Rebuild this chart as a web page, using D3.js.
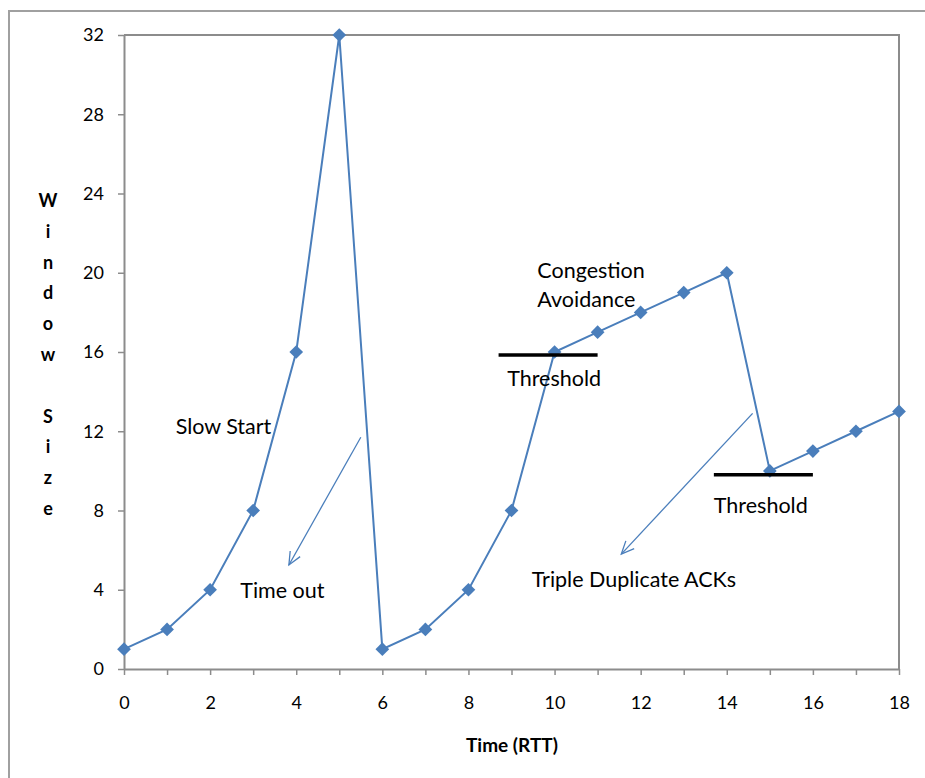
<!DOCTYPE html>
<html><head><meta charset="utf-8">
<script src="https://cdn.jsdelivr.net/npm/d3@7/dist/d3.min.js"></script>
<style>body{margin:0;background:#fff}svg{display:block}text{font-family:Lato,"Open Sans",sans-serif}</style>
</head><body>
<script>
const rtt = [0,1,2,3,4,5,6,7,8,9,10,11,12,13,14,15,16,17,18];
const windowSize = [1,2,4,8,16,32,1,2,4,8,16,17,18,19,20,10,11,12,13];
const yTicks = [0,4,8,12,16,20,24,28,32];
const xTicks = [0,2,4,6,8,10,12,14,16,18];
const yLabelChars = ["W","i","n","d","o","w","","S","i","z","e"];
const thresholds = [{x0:8.7,x1:11,y:15.85,lx:8.9,ly:14.55},{x0:13.7,x1:16,y:9.8,lx:13.7,ly:8.15}];
const notes = [
  {t:"Slow Start",x:1.2,y:12.15},
  {t:"Time out",x:2.7,y:3.85},
  {t:"Congestion",x:9.6,y:20},
  {t:"Avoidance",x:9.6,y:18.55},
  {t:"Triple Duplicate ACKs",x:9.47,y:4.4}
];
const arrows = [{x0:5.5,y0:11.7,x1:3.83,y1:5.25},{x0:14.6,y0:12.9,x1:11.55,y1:5.8}];

const W=925,H=778;
const svg=d3.select("body").append("svg").attr("width",W).attr("height",H);
const x=d3.scaleLinear().domain([0,18]).range([124,899]);
const y=d3.scaleLinear().domain([0,32]).range([669,35]);
const blue="#4a7ebb", gray="#8c8c8c";

// outer frame
svg.append("rect").attr("x",9).attr("y",11).attr("width",W+10).attr("height",H+10)
  .attr("fill","none").attr("stroke","#a0a0a0").attr("stroke-width",2);

// plot border top/right
svg.append("path").attr("d",`M${x(0)},${y(32)}H${x(18)}V${y(0)}`).attr("fill","none").attr("stroke",gray).attr("stroke-width",2);

const xa=svg.append("g").attr("transform",`translate(0,${y(0)})`)
  .call(d3.axisBottom(x).tickValues(rtt).tickSize(6).tickSizeOuter(0).tickFormat(d=>xTicks.includes(d)?d:""));
xa.select(".domain").attr("stroke",gray).attr("stroke-width",2);
xa.selectAll(".tick line").attr("stroke",gray).attr("stroke-width",1.5);
xa.selectAll(".tick text").attr("font-size",18).attr("fill","#000").attr("dy","1.7em").attr("font-family","Lato,sans-serif");

const ya=svg.append("g").attr("transform",`translate(${x(0)},0)`)
  .call(d3.axisLeft(y).tickValues(yTicks).tickSize(6).tickSizeOuter(0));
ya.select(".domain").attr("stroke",gray).attr("stroke-width",2);
ya.selectAll(".tick text").attr("font-size",18).attr("fill","#000").attr("x",-20).attr("font-family","Lato,sans-serif");
ya.selectAll(".tick line").attr("stroke",gray).attr("stroke-width",1.5);

// axis titles
svg.append("text").attr("x",512).attr("y",752).attr("text-anchor","middle")
  .attr("font-weight","bold").attr("font-size",19).text("Time (RTT)");
svg.selectAll(".yl").data(yLabelChars).join("text").attr("class","yl")
  .attr("x",48).attr("y",(d,i)=>207+i*30.8).attr("text-anchor","middle")
  .attr("font-weight","bold").attr("font-size",18).text(d=>d);

// line + markers
const line=d3.line().x((d,i)=>x(rtt[i])).y(d=>y(d));
svg.append("path").datum(windowSize).attr("d",line).attr("fill","none").attr("stroke",blue).attr("stroke-width",2);
svg.selectAll(".m").data(windowSize).join("path").attr("class","m")
  .attr("d",d3.symbol().type(d3.symbolDiamond2).size(120))
  .attr("transform",(d,i)=>`translate(${x(rtt[i])},${y(d)})`)
  .attr("fill",blue);

// thresholds
thresholds.forEach(t=>{
  svg.append("line").attr("x1",x(t.x0)).attr("x2",x(t.x1)).attr("y1",y(t.y)).attr("y2",y(t.y))
    .attr("stroke","#000").attr("stroke-width",3.5);
  svg.append("text").attr("x",x(t.lx)).attr("y",y(t.ly)).attr("font-size",21.5).attr("dominant-baseline","middle").text("Threshold");
});
notes.forEach(n=>{
  svg.append("text").attr("x",x(n.x)).attr("y",y(n.y)).attr("font-size",21.5).attr("dominant-baseline","middle").text(n.t);
});

// arrows
arrows.forEach(a=>{
  const X0=x(a.x0),Y0=y(a.y0),X1=x(a.x1),Y1=y(a.y1);
  const ang=Math.atan2(Y1-Y0,X1-X0), L=14, sp=0.42;
  svg.append("line").attr("x1",X0).attr("y1",Y0).attr("x2",X1).attr("y2",Y1).attr("stroke",blue).attr("stroke-width",1.3);
  const p1=[X1-L*Math.cos(ang-sp),Y1-L*Math.sin(ang-sp)], p2=[X1-L*Math.cos(ang+sp),Y1-L*Math.sin(ang+sp)];
  svg.append("path").attr("d",`M${p1}L${X1},${Y1}L${p2}`).attr("fill","none").attr("stroke",blue).attr("stroke-width",1.3);
});
</script>
</body></html>
